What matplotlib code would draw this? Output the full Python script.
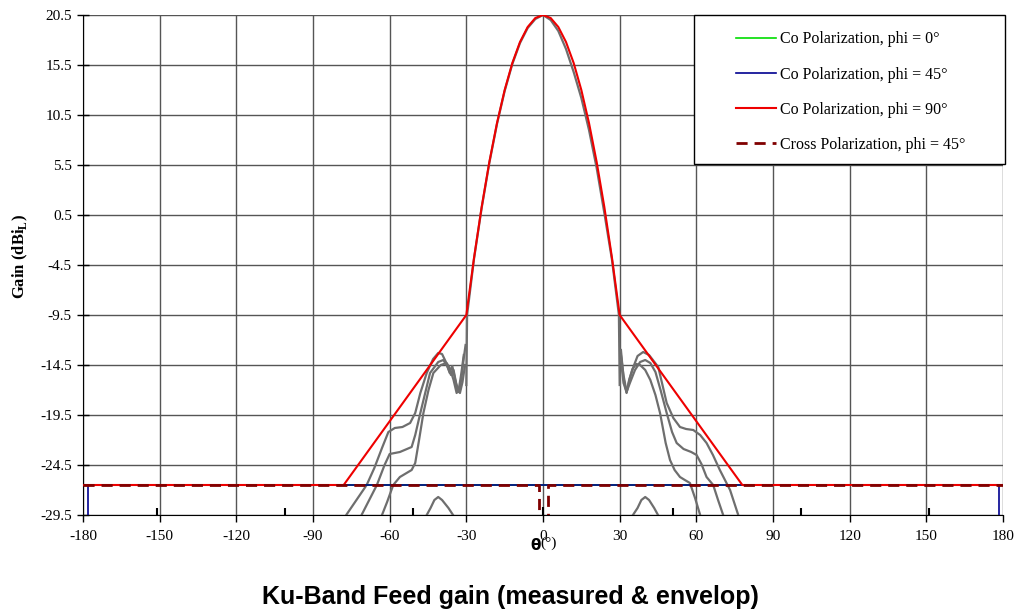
import matplotlib
matplotlib.use("Agg")
import matplotlib.pyplot as plt
from matplotlib.patches import Rectangle

plt.rcParams['font.family'] = ['Liberation Serif', 'DejaVu Serif']
plt.rcParams['mathtext.fontset'] = 'custom'
plt.rcParams['mathtext.rm'] = 'Liberation Serif'
plt.rcParams['mathtext.bf'] = 'Liberation Serif:bold'

# ---- data ----
x_ticks = [-180, -150, -120, -90, -60, -30, 0, 30, 60, 90, 120, 150, 180]
y_ticks = [20.5, 15.5, 10.5, 5.5, 0.5, -4.5, -9.5, -14.5, -19.5, -24.5, -29.5]

# envelope (co polarization, phi = 90)
env_theta = [-180, -78, -30, -27, -24, -21, -18, -15, -12, -9, -6, -3, 0,
             3, 6, 9, 12, 15, 18, 21, 24, 27, 30, 78, 180]
env_gain = [-26.5, -26.5, -9.5, -3.8, 1.3, 5.8, 9.7, 13.0, 15.7, 17.8, 19.3, 20.2, 20.5,
            20.2, 19.3, 17.8, 15.7, 13.0, 9.7, 5.8, 1.3, -3.8, -9.5, -26.5, -26.5]

# co polarization, phi = 0 (hidden under the floor)
co0_theta = [-178, 178]
co0_gain = [-26.5, -26.5]

# co polarization, phi = 45
co45_theta = [-178.2, -178.2, 178.3, 178.3]
co45_gain = [-31, -26.5, -26.5, -31]

# cross polarization, phi = 45
xp_theta = [-180, -1.4, -1.4, 2.1, 2.1, 180]
xp_gain = [-26.5, -26.5, -30.5, -30.5, -26.5, -26.5]

# measured main lobe (shared by the three cuts)
main_theta = [-30, -29.7, -27, -24, -21, -18, -15, -12, -9, -6, -3, 0,
              3, 6, 9, 12, 15, 18, 21, 24, 27, 29.7, 30]
main_gain = [-16.5, -9.5, -3.9, 1.2, 5.7, 9.6, 12.9, 15.6, 17.7, 19.2, 20.1, 20.5,
             20.0, 18.9, 17.1, 14.8, 12.2, 9.0, 5.2, 0.7, -4.0, -9.5, -16.5]

# measured side lobes, left side
left1_theta = [-80, -77, -73, -69, -66, -63, -60.5, -58, -55, -52, -50, -48, -45.5,
               -43, -41, -39.5, -38, -36.5, -35.5, -34.5, -33.5, -32.5, -31.5, -30.5]
left1_gain = [-31, -29.5, -28, -26.5, -24.8, -22.8, -21.2, -20.8, -20.7, -20.3, -19.3, -17.3, -15.3,
              -13.9, -13.3, -13.4, -14.2, -15.3, -14.6, -15.8, -17.0, -17.3, -16.2, -14.5]
left2_theta = [-73, -71, -68, -65, -62, -60, -56, -51.4, -50, -48, -44.2, -41, -39,
               -37.5, -36, -35, -34, -33, -32, -31, -30.3]
left2_gain = [-31, -29.5, -28, -26.5, -24.5, -23.4, -23.2, -22.7, -21.5, -19.3, -15.3, -14.2, -14.0,
              -14.6, -15.5, -15.0, -16.3, -17.2, -16.0, -13.8, -12.5]
left3_theta = [-65, -63, -61, -58.6, -56, -51.4, -50, -48.5, -46.8, -44.8, -42.9, -40,
               -37.7, -36.5, -35, -33.8, -33, -32, -31]
left3_gain = [-31, -29.5, -28.2, -26.5, -25.7, -25.0, -24.3, -22, -19.3, -17, -15.3, -14.5,
              -14.3, -14.8, -16.0, -17.3, -17.0, -15.4, -13.5]

# measured side lobes, right side
right1_theta = [30.5, 31.5, 32.7, 34, 35.5, 37, 39.2, 41.5, 43, 45.1, 48.4, 51, 53.6,
                56, 58.8, 61.5, 64, 66.5, 69.2, 73.2, 76.4, 78]
right1_gain = [-14, -16.3, -17.2, -15.8, -14.6, -13.6, -13.2, -13.5, -14, -14.7, -18.3, -19.8, -20.7,
               -20.9, -21.0, -21.5, -22.3, -23.5, -25.0, -27.0, -29.5, -31]
right2_theta = [30.5, 31.5, 32.7, 34, 36, 38, 40, 42, 44, 46, 48.4, 50.5, 52.3,
                55, 58, 60.1, 62, 64, 66.6, 68.5, 70.5, 72]
right2_gain = [-13.5, -15.5, -17.2, -16.3, -15.0, -14.2, -14.0, -14.3, -15.2, -17, -19.3, -21.2, -22.3,
               -22.9, -23.2, -23.5, -24.4, -25.7, -26.5, -28, -29.5, -31]
right3_theta = [30.5, 31.5, 32.7, 33.7, 35, 36.5, 38, 40, 42, 44, 45.8, 48, 49.7,
                51.5, 53.6, 55.5, 57.5, 59.5, 61.5, 63]
right3_gain = [-13, -15.8, -17.3, -16, -14.9, -14.4, -14.5, -15.0, -16, -17.5, -19.3, -22.3, -24.0,
               -25.0, -25.7, -26.0, -26.3, -27.8, -29.5, -31]

# cross polarization measured humps and small stubs near the floor
hump_left_theta = [-45.5, -44, -42.5, -41, -39.5, -37, -35.2]
hump_left_gain = [-29.5, -28.8, -28.0, -27.7, -28.0, -28.8, -29.5]
hump_right_theta = [35.2, 37, 38.5, 40, 41.5, 43.5, 45]
hump_right_gain = [-29.5, -28.8, -28.0, -27.7, -28.0, -28.8, -29.5]
stub_theta = [-151, -101, -51, 0, 51, 101, 151]
stub_top = [-28.8, -28.8, -28.8, -28.7, -28.8, -28.8, -28.8]

# ---- figure ----
fig = plt.figure(figsize=(10.2, 6.12), dpi=100)
ax = fig.add_axes([83 / 1020, 1 - 515 / 612, 920 / 1020, 500 / 612])

ax.set_xlim(-180, 180)
ax.set_ylim(-29.5, 20.5)
ax.set_xticks(x_ticks)
ax.set_yticks(y_ticks)
ax.set_xticklabels([str(t) for t in x_ticks])
ax.set_yticklabels([str(t) for t in y_ticks])
ax.tick_params(axis='x', direction='out', length=5, width=1, labelsize=11, pad=6)
ax.tick_params(axis='y', direction='inout', length=8, width=1, labelsize=11, pad=4)
ax.grid(True, color='#555555', linewidth=1)
ax.set_axisbelow(True)
for s in ['top', 'right']:
    ax.spines[s].set_visible(False)

gray = '#6e6e6e'
gray_lw = 1.6
for th, g in [(left1_theta, left1_gain), (left2_theta, left2_gain), (left3_theta, left3_gain),
              (right1_theta, right1_gain), (right2_theta, right2_gain), (right3_theta, right3_gain),
              (main_theta, main_gain), (hump_left_theta, hump_left_gain),
              (hump_right_theta, hump_right_gain)]:
    ax.plot(th, g, color=gray, linewidth=gray_lw, zorder=2)
ax.vlines(stub_theta, -29.5, stub_top, color='black', linewidth=1.5, zorder=2)

l0, = ax.plot(co0_theta, co0_gain, color='#00dd00', linewidth=1.2, zorder=3,
              label='Co Polarization, phi = 0°')
l1, = ax.plot(co45_theta, co45_gain, color='#000090', linewidth=1.2, zorder=3,
              label='Co Polarization, phi = 45°')
l2, = ax.plot(env_theta, env_gain, color='#ee0000', linewidth=1.5, zorder=4,
              label='Co Polarization, phi = 90°')
l3, = ax.plot(xp_theta, xp_gain, color='#800000', linewidth=2, zorder=5,
              linestyle=(0, (4, 2.5)), label='Cross Polarization, phi = 45°')

# legend box
fig.patches.append(Rectangle((694 / 1020, 1 - 164 / 612), 311 / 1020, 149 / 612,
                             transform=fig.transFigure, facecolor='white',
                             edgecolor='black', linewidth=1, zorder=10))
leg = fig.legend(handles=[l0, l1, l2, l3], loc='upper left',
                 bbox_to_anchor=(722 / 1020, 1 - 17 / 612), frameon=False,
                 fontsize=11.5, handlelength=2.5, handletextpad=0.2, labelspacing=1.2)
leg.set_zorder(11)

fig.text(20 / 1020, 1 - 256 / 612, r'Gain (dBi$_\mathbf{L}$)', rotation=90,
         fontsize=12, fontweight='bold', ha='center', va='center')
fig.text(536 / 1020, 1 - 545 / 612, 'θ', family='DejaVu Sans', fontweight='bold',
         fontsize=11, ha='center', va='center')
fig.text(549 / 1020, 1 - 543 / 612, '(°)', fontsize=11, ha='center', va='center')

fig.text(0.5, 1 - 597 / 612, 'Ku-Band Feed gain (measured & envelop)',
         family='Liberation Sans', fontweight='bold', fontsize=18,
         ha='center', va='center')

fig.savefig('out.png', dpi=100)
